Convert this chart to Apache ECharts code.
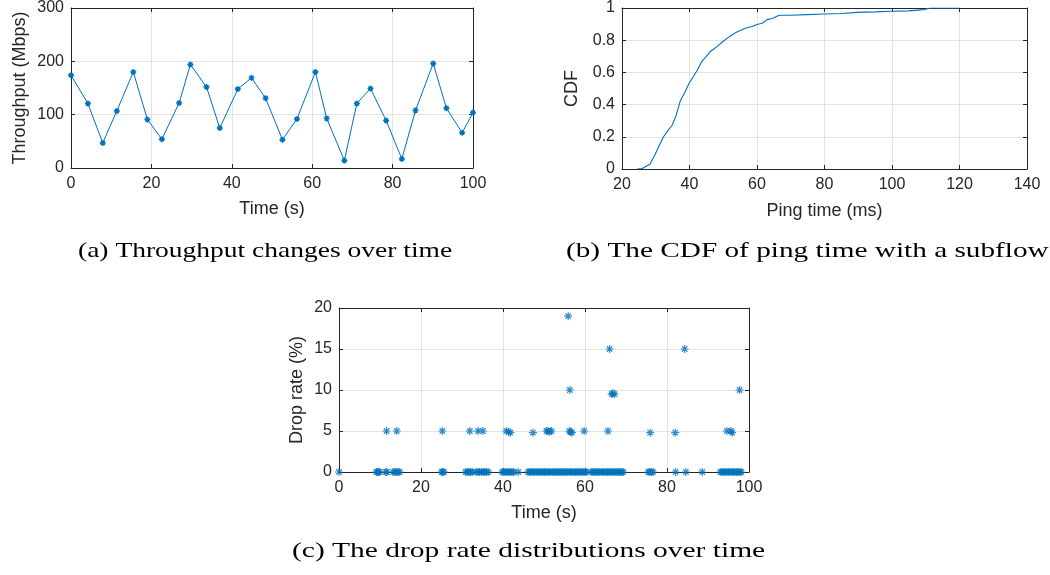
<!DOCTYPE html>
<html>
<head>
<meta charset="utf-8">
<script src="https://cdn.jsdelivr.net/npm/echarts@6/dist/echarts.min.js"></script>
<style>
html,body{margin:0;padding:0;background:#fff;}
#chart{width:1050px;height:575px;}
</style>
</head>
<body>
<div id="chart"></div>
<script>
// (a) Throughput over time
var tputTime = [0, 4.2, 7.9, 11.4, 15.5, 19.0, 22.6, 26.9, 29.7, 33.7, 37.0, 41.5, 44.9, 48.4, 52.6, 56.2, 60.8, 63.6, 68.0, 71.1, 74.5, 78.4, 82.3, 85.7, 90.1, 93.4, 97.3, 100];
var tputMbps = [174, 121, 47, 107, 180, 91, 54, 122, 194, 152, 75, 148, 169, 131, 53, 92, 180, 93, 14, 121, 149, 89, 17, 108, 196, 112, 66, 104];

// (b) CDF of ping time
var pingMs = [24.5, 26, 27.4, 28.3, 28.9, 29.8, 30.9, 32.3, 33.5, 34.8, 36, 37.3, 38.5, 39.8, 41, 42.2, 43.7, 45, 46.2, 47.2, 48.1, 50.1, 52, 53.6, 55.5, 57, 58.5, 60, 61.5, 63, 64.5, 66.4, 67, 70, 74.8, 79.8, 85, 89.6, 95, 99.5, 105, 109.4, 111.4, 120];
var pingCdf = [0, 0.003, 0.02, 0.03, 0.055, 0.09, 0.14, 0.2, 0.235, 0.27, 0.33, 0.425, 0.47, 0.53, 0.57, 0.61, 0.67, 0.7, 0.73, 0.745, 0.76, 0.795, 0.825, 0.846, 0.865, 0.877, 0.885, 0.897, 0.905, 0.928, 0.935, 0.953, 0.955, 0.955, 0.959, 0.963, 0.966, 0.973, 0.976, 0.98, 0.982, 0.99, 1.0, 1.0];

// (c) Drop rate over time
var zeroDropTimes = [0, 9.1, 9.4, 9.7, 9.9, 11.4, 11.7, 13.2, 13.6, 14.0, 14.4, 14.8, 25.0, 25.3, 25.6,
  30.9, 31.3, 31.7, 32.1, 32.5, 33.5, 33.9, 34.3, 34.8, 35.2, 35.6, 36.0, 36.4,
  39.8, 40.2, 40.6, 41.0, 41.4, 41.8, 42.2, 42.6, 43.7,
  46.1, 46.5, 46.9, 47.3, 47.7, 48.1, 48.5, 48.9, 49.3, 49.7, 50.1, 50.5, 50.9, 51.3, 51.7, 52.1, 52.5, 52.9, 53.3, 53.7,
  54.1, 54.5, 54.9, 55.3, 55.7, 56.1, 56.5, 56.9, 57.3, 57.7, 58.1, 58.5, 58.9, 59.3, 59.7, 60.1, 60.3,
  61.5, 61.9, 62.3, 62.7, 63.1, 63.5, 63.9, 64.3, 64.7, 65.1, 65.5, 65.9, 66.3, 66.7, 67.1, 67.5, 67.9, 68.3, 68.7, 69.0, 69.3,
  75.4, 75.8, 76.2, 76.6, 82.1, 84.6, 88.6,
  93.0, 93.4, 93.8, 94.2, 94.6, 95.0, 95.4, 95.8, 96.2, 96.6, 97.0, 97.4, 97.8, 98.1];
var lossTimes = [11.6, 14.1, 25.2, 31.9, 33.9, 35.1, 40.8, 41.4, 41.8, 47.3, 50.6, 51.0, 51.4, 51.8, 55.9, 56.3, 56.2, 56.5, 56.8, 59.8, 65.6, 66.0, 66.5, 66.8, 67.2, 75.9, 82.0, 84.3, 94.6, 95.6, 95.9, 97.7];
var lossRates = [5, 5, 5, 5, 5, 5, 5, 4.9, 4.8, 4.8, 5, 5, 4.9, 5, 19, 10, 5, 4.9, 4.8, 5, 5, 15, 9.5, 9.6, 9.5, 4.8, 4.8, 15, 5, 5, 4.8, 10];

var captions = ['(a) Throughput changes over time', '(b) The CDF of ping time with a subflow', '(c) The drop rate distributions over time'];

var C = '#0072BD';
var AX = '#262626';
var GRIDC = '#e3e3e3';
var STAR = 'path://M5,0L5,10M0,5L10,5M1.6,1.6L8.4,8.4M1.6,8.4L8.4,1.6';
var SANS = '"Liberation Sans", Arial, Helvetica, sans-serif';
var SERIF = '22px "Liberation Serif", "DejaVu Serif", serif';

function mainX(gi, min, max, interval, name, gap) {
  return {
    gridIndex: gi, type: 'value', min: min, max: max, interval: interval,
    name: name, nameLocation: 'middle', nameGap: gap,
    nameTextStyle: {fontFamily: SANS, fontSize: 18, color: AX},
    axisLine: {show: true, onZero: false, lineStyle: {color: AX, width: 1}},
    axisTick: {show: true, inside: true, length: 4, lineStyle: {color: AX}},
    axisLabel: {fontFamily: SANS, fontSize: 16, color: AX, margin: 8},
    splitLine: {show: true, lineStyle: {color: GRIDC, width: 1}}
  };
}
function mainY(gi, min, max, interval, name, gap) {
  return {
    gridIndex: gi, type: 'value', min: min, max: max, interval: interval,
    name: name, nameLocation: 'middle', nameGap: gap,
    nameTextStyle: {fontFamily: SANS, fontSize: 18, color: AX},
    axisLine: {show: true, onZero: false, lineStyle: {color: AX, width: 1}},
    axisTick: {show: true, inside: true, length: 4, lineStyle: {color: AX}},
    axisLabel: {fontFamily: SANS, fontSize: 16, color: AX, margin: 7},
    splitLine: {show: true, lineStyle: {color: GRIDC, width: 1}}
  };
}
function mirror(gi, min, max, interval, pos) {
  return {
    gridIndex: gi, type: 'value', min: min, max: max, interval: interval, position: pos,
    axisLine: {show: true, onZero: false, lineStyle: {color: AX, width: 1}},
    axisTick: {show: true, inside: true, length: 4, lineStyle: {color: AX}},
    axisLabel: {show: false}, splitLine: {show: false}
  };
}

var tputData = tputTime.map(function (t, i) { return [t, tputMbps[i]]; });
var cdfData = pingMs.map(function (t, i) { return [t, pingCdf[i]]; });
var dropData = zeroDropTimes.map(function (t) { return [t, 0]; })
  .concat(lossTimes.map(function (t, i) { return [t, lossRates[i]]; }));

var chart = echarts.init(document.getElementById('chart'), null, {renderer: 'canvas'});
chart.setOption({
  animation: false,
  backgroundColor: '#fff',
  grid: [
    {left: 71, top: 7, width: 402, height: 161, show: false},
    {left: 622, top: 7, width: 405, height: 162, show: false},
    {left: 339, top: 308, width: 410, height: 164, show: false}
  ],
  xAxis: [
    mainX(0, 0, 100, 20, 'Time (s)', 32),
    mainX(1, 20, 140, 20, 'Ping time (ms)', 33),
    mainX(2, 0, 100, 20, 'Time (s)', 32),
    mirror(0, 0, 100, 20, 'top'),
    mirror(1, 20, 140, 20, 'top'),
    mirror(2, 0, 100, 20, 'top')
  ],
  yAxis: [
    mainY(0, 0, 300, 100, 'Throughput (Mbps)', 42),
    mainY(1, 0, 1, 0.2, 'CDF', 41),
    mainY(2, 0, 20, 5, 'Drop rate (%)', 33),
    mirror(0, 0, 300, 100, 'right'),
    mirror(1, 0, 1, 0.2, 'right'),
    mirror(2, 0, 20, 5, 'right')
  ],
  series: [
    {
      type: 'line', xAxisIndex: 0, yAxisIndex: 0, data: tputData,
      symbol: STAR, symbolSize: 6, showAllSymbol: true,
      lineStyle: {color: C, width: 1},
      itemStyle: {color: C, borderColor: C, borderWidth: 1.4}
    },
    {
      type: 'line', xAxisIndex: 1, yAxisIndex: 1, data: cdfData,
      showSymbol: false, symbol: 'none',
      lineStyle: {color: C, width: 1.1}
    },
    {
      type: 'scatter', xAxisIndex: 2, yAxisIndex: 2, data: dropData,
      symbol: STAR, symbolSize: 8,
      itemStyle: {color: C, borderColor: C, borderWidth: 1.2}
    }
  ],
  graphic: [
    {type: 'text', x: 78, y: 240, scaleX: 1.25, style: {text: captions[0], font: SERIF, fill: '#000', textVerticalAlign: 'top'}},
    {type: 'text', x: 566, y: 240, scaleX: 1.33, style: {text: captions[1], font: SERIF, fill: '#000', textVerticalAlign: 'top'}},
    {type: 'text', x: 292, y: 540, scaleX: 1.34, style: {text: captions[2], font: SERIF, fill: '#000', textVerticalAlign: 'top'}}
  ]
});
</script>
</body>
</html>
